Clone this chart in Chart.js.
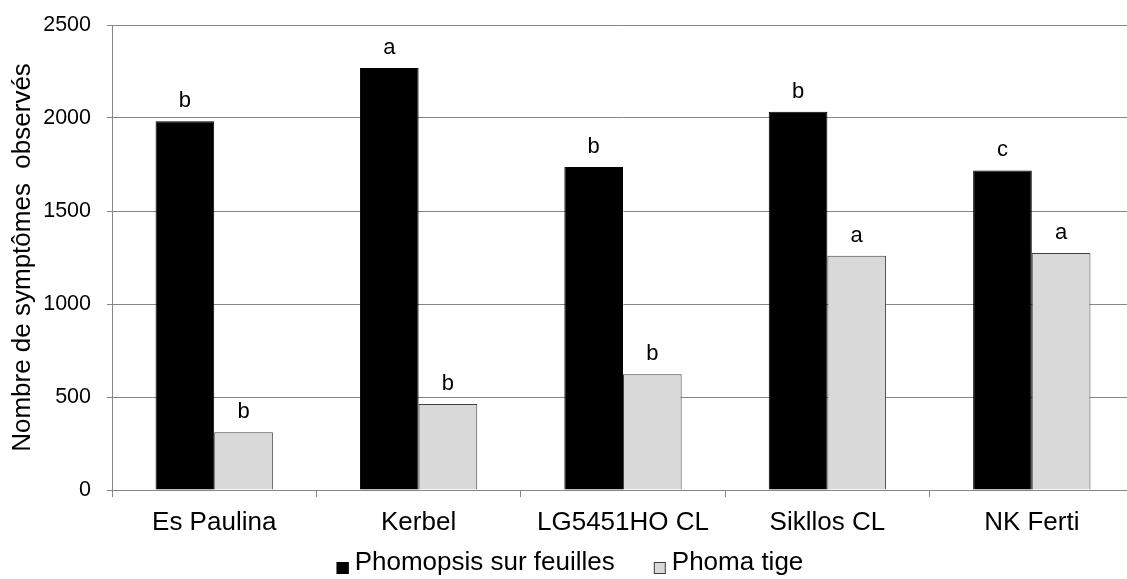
<!DOCTYPE html>
<html>
<head>
<meta charset="utf-8">
<script src="https://cdn.jsdelivr.net/npm/chart.js"></script>
<style>
  html, body { margin: 0; padding: 0; background: #fff; overflow: hidden; }
</style>
</head>
<body>
<canvas id="myChart" width="1140" height="579"></canvas>
<script>
// data
const varietes = ['Es Paulina', 'Kerbel', 'LG5451HO CL', 'Sikllos CL', 'NK Ferti'];
const phomopsis = [1982, 2269, 1736, 2034, 1718];
const phoma = [310, 463, 622, 1259, 1274];
const lettresPhomopsis = ['b', 'a', 'b', 'b', 'c'];
const lettresPhoma = ['b', 'b', 'b', 'a', 'a'];
const yTicks = [0, 500, 1000, 1500, 2000, 2500];

const police = '"Liberation Sans", Arial, sans-serif';

// letters above bars
const lettres = {
  id: 'lettres',
  afterDatasetsDraw(chart) {
    const ctx = chart.ctx;
    const groups = [lettresPhomopsis, lettresPhoma];
    ctx.save();
    ctx.font = '22px ' + police;
    ctx.fillStyle = '#000';
    ctx.textAlign = 'center';
    ctx.textBaseline = 'alphabetic';
    groups.forEach((g, i) => {
      chart.getDatasetMeta(i).data.forEach((bar, j) => {
        ctx.fillText(g[j], bar.x, bar.y - 14);
      });
    });
    ctx.restore();
  }
};

// legend at the bottom, excel style (small squares, wide gap)
const legende = {
  id: 'legende',
  afterDraw(chart) {
    const ctx = chart.ctx;
    const sets = chart.data.datasets;
    const box = 12, gapText = 6, gapItem = 39, baseline = 570;
    ctx.save();
    ctx.font = '26px ' + police;
    const widths = sets.map(d => box + gapText + ctx.measureText(d.label).width);
    const total = widths.reduce((a, b) => a + b, 0) + gapItem * (sets.length - 1);
    let x = chart.width / 2 - total / 2;
    ctx.textBaseline = 'alphabetic';
    ctx.textAlign = 'left';
    sets.forEach((d, i) => {
      ctx.fillStyle = d.backgroundColor;
      ctx.fillRect(x, baseline - 8, box, box);
      ctx.strokeStyle = d.borderColor;
      ctx.lineWidth = 1;
      ctx.strokeRect(x + 0.5, baseline - 7.5, box - 1, box - 1);
      ctx.fillStyle = '#000';
      ctx.fillText(d.label, x + box + gapText, baseline);
      x += widths[i] + gapItem;
    });
    ctx.restore();
  }
};

new Chart(document.getElementById('myChart'), {
  type: 'bar',
  data: {
    labels: varietes,
    datasets: [{
      label: 'Phomopsis sur feuilles',
      data: phomopsis,
      backgroundColor: '#000000',
      borderColor: '#000000',
      borderWidth: 1,
      barPercentage: 1,
      categoryPercentage: 0.574
    }, {
      label: 'Phoma tige',
      data: phoma,
      backgroundColor: '#d9d9d9',
      borderColor: '#404040',
      borderWidth: 1,
      barPercentage: 1,
      categoryPercentage: 0.574
    }]
  },
  options: {
    responsive: false,
    animation: false,
    devicePixelRatio: 1,
    layout: { padding: { top: 25, right: 6, left: 0, bottom: 39 } },
    plugins: {
      tooltip: { enabled: false },
      legend: { display: false }
    },
    scales: {
      x: {
        afterFit(scale) { scale.height = 50; },
        grid: { drawOnChartArea: false, color: '#868686', tickLength: 7, offset: true },
        border: { color: '#868686' },
        ticks: { font: { family: police, size: 26 }, color: '#000', padding: 10, maxRotation: 0 }
      },
      y: {
        min: 0,
        max: 2500,
        afterBuildTicks(scale) { scale.ticks = yTicks.map(v => ({ value: v })); },
        afterFit(scale) {
          scale.width = 112;
          scale.paddingTop = 12;
          scale.paddingBottom = 12;
        },
        grid: { color: '#868686', tickLength: 5 },
        border: { color: '#868686' },
        ticks: {
          font: { family: police, size: 21.5 },
          color: '#000',
          padding: 16,
          callback: v => String(v)
        },
        title: {
          display: true,
          text: 'Nombre de symptômes  observés',
          font: { family: police, size: 26 },
          color: '#000',
          padding: { top: 7, bottom: 0 }
        }
      }
    }
  },
  plugins: [lettres, legende]
});
</script>
</body>
</html>
